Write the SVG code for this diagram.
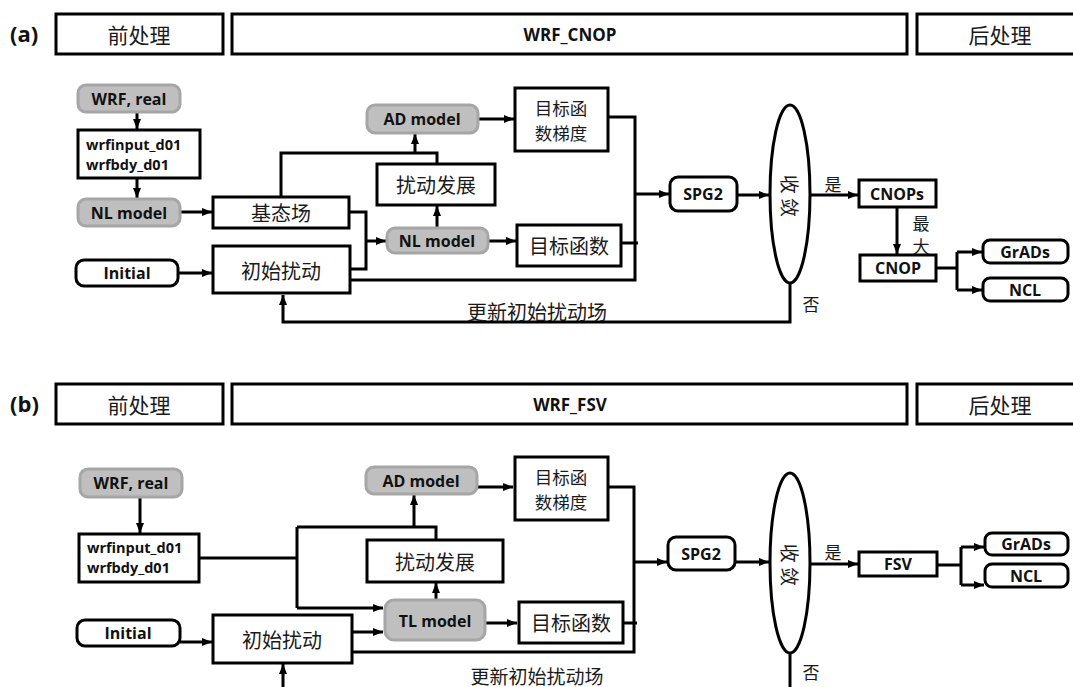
<svg xmlns="http://www.w3.org/2000/svg" width="1073" height="687" viewBox="0 0 1073 687">
<style>
.box{fill:#fff;stroke:#000;stroke-width:3}
.gray{fill:#bfbfbf;stroke:#a6a6a6;stroke-width:3}
.ln{fill:none;stroke:#000;stroke-width:3}
.ar{fill:none;stroke:#000;stroke-width:3;marker-end:url(#ah)}
.zh{font-family:"Noto Sans CJK SC",sans-serif;font-size:20px;fill:#1a1a1a;text-anchor:middle;dominant-baseline:central}
.zh2{font-family:"Noto Sans CJK SC",sans-serif;font-size:19px;fill:#1a1a1a;text-anchor:middle;dominant-baseline:central}
.zhg{font-family:"Noto Sans CJK SC",sans-serif;font-size:17.5px;fill:#1a1a1a;text-anchor:middle;dominant-baseline:central}
.zhs{font-family:"Noto Sans CJK SC",sans-serif;font-size:17px;fill:#1a1a1a;text-anchor:middle;dominant-baseline:central}
.hd{font-family:"Noto Sans CJK SC",sans-serif;font-size:21px;fill:#1a1a1a;text-anchor:middle;dominant-baseline:central}
.en{font-family:"Open Sans","Liberation Sans",sans-serif;font-weight:bold;font-size:16px;fill:#111;text-anchor:middle;dominant-baseline:central}
.enl{font-family:"Open Sans","Liberation Sans",sans-serif;font-weight:bold;font-size:14.5px;fill:#111}
.lab{font-family:"Open Sans","Liberation Sans",sans-serif;font-weight:bold;font-size:22px;fill:#111}
</style>
<defs>
<marker id="ah" markerUnits="userSpaceOnUse" markerWidth="10" markerHeight="10" viewBox="0 0 10 10" refX="10" refY="5" orient="auto">
<path d="M0,1 L10,5 L0,9 Z" fill="#000"/>
</marker>
</defs>
<rect width="1073" height="687" fill="#fff"/>

<!-- Panel (a) -->
<g id="header-a">
<text class="lab" x="10" y="42">(a)</text>
<rect class="box" x="56" y="14" width="167" height="40"/>
<text class="hd" x="139" y="34">前处理</text>
<rect class="box" x="232" y="14" width="675" height="40"/>
<text class="en" x="570" y="34" style="font-size:17px">WRF_CNOP</text>
<rect class="box" x="917" y="14" width="170" height="40"/>
<text class="hd" x="1000" y="34">后处理</text>
</g>

<g id="connectors-a">
<path class="ar" d="M137,112 V129"/>
<path class="ar" d="M137,178 V198"/>
<path class="ar" d="M180,212 H212"/>
<path class="ar" d="M178,273 H212"/>
<path class="ln" d="M349,212 H366 V269 H350"/>
<path class="ar" d="M366,241 H386"/>
<path class="ln" d="M281,197 V153 H437 V164"/>
<path class="ar" d="M415,153 V134"/>
<path class="ar" d="M437,228 V206"/>
<path class="ar" d="M478,119 H514"/>
<path class="ar" d="M488,241 H516"/>
<path class="ln" d="M608,117 H635 V280 H350"/>
<path class="ln" d="M621,243 H638"/>
<path class="ar" d="M635,194 H669"/>
<path class="ar" d="M737,195 H769"/>
<path class="ar" d="M810,195 H858"/>
<path class="ar" d="M897,207 V254"/>
<path class="ln" d="M936,268 H957 M957,252 V290"/>
<path class="ar" d="M957,252 H982"/>
<path class="ar" d="M957,290 H982"/>
<path class="ar" d="M790,283 V322 H283 V295"/>
<text class="zhs" x="833" y="183">是</text>
<text class="zhs" x="921" y="222">最</text>
<text class="zhs" x="921" y="245">大</text>
<text class="zhs" x="811" y="303">否</text>
<text class="zh" x="537" y="311">更新初始扰动场</text>
</g>

<g id="wrf-real-a"><rect class="gray" x="78" y="85" width="102" height="27" rx="8"/><text class="en" x="129" y="98.5">WRF, real</text></g>
<g id="wrfinput-a"><rect class="box" x="78" y="130" width="122" height="48"/><text class="enl" x="86" y="150">wrfinput_d01</text><text class="enl" x="86" y="170">wrfbdy_d01</text></g>
<g id="nl-model-a"><rect class="gray" x="78" y="199" width="102" height="27" rx="8"/><text class="en" x="129" y="212.5">NL model</text></g>
<g id="jitaichang-a"><rect class="box" x="213" y="197" width="136" height="31"/><text class="zh" x="281" y="212.5">基态场</text></g>
<g id="initial-a"><rect class="box" x="76" y="260" width="102" height="26" rx="8"/><text class="en" x="127" y="273">Initial</text></g>
<g id="chushi-a"><rect class="box" x="213" y="246" width="137" height="47"/><text class="zh" x="281" y="270">初始扰动</text></g>
<g id="ad-model-a"><rect class="gray" x="367" y="105" width="111" height="28" rx="8"/><text class="en" x="422" y="119">AD model</text></g>
<g id="gradient-a"><rect class="box" x="515" y="88" width="93" height="63"/><text class="zhg" x="561" y="107">目标函</text><text class="zhg" x="561" y="132.5">数梯度</text></g>
<g id="raodong-a"><rect class="box" x="377" y="164" width="118" height="41"/><text class="zh" x="436" y="184.5">扰动发展</text></g>
<g id="nl-mid-a"><rect class="gray" x="387" y="228" width="101" height="25" rx="8"/><text class="en" x="437" y="241">NL model</text></g>
<g id="mubiao-a"><rect class="box" x="517" y="225" width="104" height="41"/><text class="zh" x="569" y="245.5">目标函数</text></g>
<g id="spg2-a"><rect class="box" x="670" y="177" width="67" height="34" rx="8"/><text class="en" x="703" y="194">SPG2</text></g>
<g id="shoulian-a"><ellipse class="box" cx="790" cy="194" rx="20" ry="89"/><text class="zh2" x="790" y="196" transform="rotate(90 790 196)">收 敛</text></g>
<g id="cnops"><rect class="box" x="859" y="180" width="77" height="27"/><text class="en" x="897" y="193.5">CNOPs</text></g>
<g id="cnop"><rect class="box" x="860" y="255" width="76" height="26"/><text class="en" x="898" y="268">CNOP</text></g>
<g id="grads-a"><rect class="box" x="983" y="240" width="85" height="23" rx="7"/><text class="en" x="1025" y="251.5">GrADs</text></g>
<g id="ncl-a"><rect class="box" x="983" y="278" width="85" height="23" rx="7"/><text class="en" x="1025" y="289.5">NCL</text></g>

<!-- Panel (b) -->
<g id="header-b">
<text class="lab" x="10" y="412">(b)</text>
<rect class="box" x="56" y="384" width="167" height="40"/>
<text class="hd" x="139" y="404">前处理</text>
<rect class="box" x="232" y="384" width="675" height="40"/>
<text class="en" x="570" y="404" style="font-size:17px">WRF_FSV</text>
<rect class="box" x="917" y="384" width="170" height="40"/>
<text class="hd" x="1000" y="404">后处理</text>
</g>

<g id="connectors-b">
<path class="ar" d="M140,497 V533"/>
<path class="ln" d="M199,558 H297 M297,527 V608 M297,527 H436 V540"/>
<path class="ar" d="M414,527 V495"/>
<path class="ar" d="M297,608 H383"/>
<path class="ar" d="M180,642 H212"/>
<path class="ar" d="M352,632 H383"/>
<path class="ln" d="M352,652 H634 V487 H608"/>
<path class="ln" d="M623,623 H637"/>
<path class="ar" d="M477,487 H513"/>
<path class="ar" d="M436,600 V583"/>
<path class="ar" d="M485,623 H517"/>
<path class="ar" d="M634,562 H667"/>
<path class="ar" d="M735,562 H769"/>
<path class="ar" d="M810,564 H858"/>
<path class="ln" d="M937,565 H961 M961,547 V585"/>
<path class="ar" d="M961,547 H984"/>
<path class="ar" d="M961,585 H984"/>
<path class="ln" d="M790,653 V695"/>
<path class="ar" d="M283,695 V664"/>
<text class="zhs" x="833" y="551">是</text>
<text class="zhs" x="811" y="671">否</text>
<text class="zh2" x="537" y="675">更新初始扰动场</text>
</g>

<g id="wrf-real-b"><rect class="gray" x="80" y="469" width="102" height="28" rx="8"/><text class="en" x="131" y="483">WRF, real</text></g>
<g id="wrfinput-b"><rect class="box" x="79" y="534" width="120" height="48"/><text class="enl" x="87" y="553">wrfinput_d01</text><text class="enl" x="87" y="573">wrfbdy_d01</text></g>
<g id="initial-b"><rect class="box" x="77" y="620" width="103" height="26" rx="8"/><text class="en" x="128" y="633">Initial</text></g>
<g id="chushi-b"><rect class="box" x="213" y="615" width="139" height="48"/><text class="zh" x="282" y="639">初始扰动</text></g>
<g id="ad-model-b"><rect class="gray" x="366" y="467" width="111" height="27" rx="8"/><text class="en" x="421" y="480.5">AD model</text></g>
<g id="gradient-b"><rect class="box" x="515" y="457" width="93" height="63"/><text class="zhg" x="561" y="476">目标函</text><text class="zhg" x="561" y="501.5">数梯度</text></g>
<g id="raodong-b"><rect class="box" x="367" y="540" width="136" height="42"/><text class="zh" x="435" y="561">扰动发展</text></g>
<g id="tl-model-b"><rect class="gray" x="385" y="600" width="100" height="40" rx="9"/><text class="en" x="435" y="621">TL model</text></g>
<g id="mubiao-b"><rect class="box" x="519" y="602" width="104" height="41"/><text class="zh" x="571" y="622.5">目标函数</text></g>
<g id="spg2-b"><rect class="box" x="668" y="537" width="67" height="33" rx="8"/><text class="en" x="701" y="553.5">SPG2</text></g>
<g id="shoulian-b"><ellipse class="box" cx="790" cy="563" rx="20" ry="90"/><text class="zh2" x="790" y="565" transform="rotate(90 790 565)">收 敛</text></g>
<g id="fsv"><rect class="box" x="859" y="552" width="78" height="24"/><text class="en" x="898" y="564">FSV</text></g>
<g id="grads-b"><rect class="box" x="985" y="533" width="83" height="22" rx="7"/><text class="en" x="1026" y="544">GrADs</text></g>
<g id="ncl-b"><rect class="box" x="985" y="564" width="83" height="23" rx="7"/><text class="en" x="1026" y="575.5">NCL</text></g>
</svg>
